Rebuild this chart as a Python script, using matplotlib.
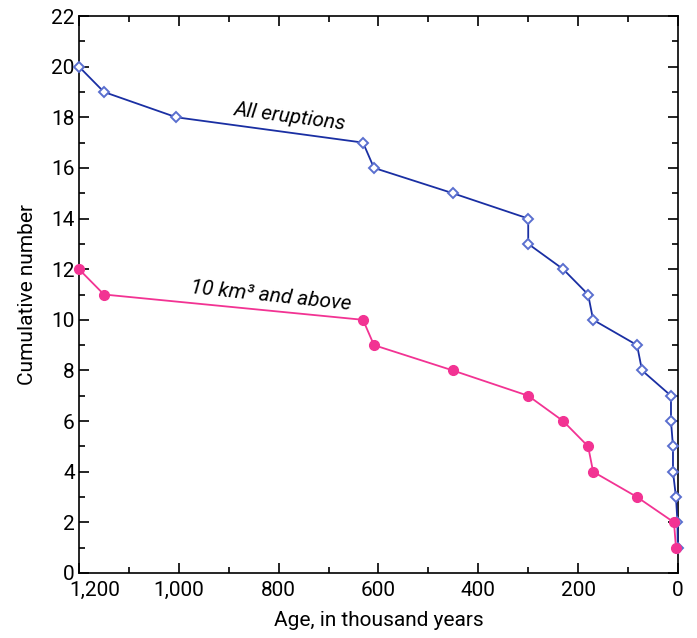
import matplotlib.pyplot as plt
import matplotlib.transforms as mtransforms
from matplotlib.ticker import MultipleLocator, FuncFormatter

plt.rcParams['font.family'] = ['Roboto', 'DejaVu Sans']

# cumulative count vs age (thousand years)
all_age = [1200, 1150, 1005, 631, 609, 451, 300, 300, 230, 180, 170, 82, 72, 14, 14, 10, 10, 4, 1, 0.5]
all_n = [20, 19, 18, 17, 16, 15, 14, 13, 12, 11, 10, 9, 8, 7, 6, 5, 4, 3, 2, 1]
big_age = [1200, 1150, 631, 609, 451, 300, 230, 180, 170, 82, 8, 4]
big_n = [12, 11, 10, 9, 8, 7, 6, 5, 4, 3, 2, 1]

blue, blue_mk, pink = '#1a2fa3', '#5a6fcf', '#f23393'

fig = plt.figure(figsize=(6.97, 6.38), dpi=100)
ax = fig.add_axes([0.1133, 0.1019, 0.8594, 0.873])

ax.plot(all_age, all_n, '-', color=blue, lw=1.3, marker='D', ms=5.5, mfc='white',
        mec=blue_mk, mew=1.4, clip_on=False, zorder=3)
ax.plot(big_age, big_n, '-', color=pink, lw=1.3, marker='o', ms=7, mfc=pink,
        mec=pink, clip_on=False, zorder=4)

ax.set_xlim(1200, 0)
ax.set_ylim(0, 22)
ax.xaxis.set_major_locator(MultipleLocator(200))
ax.xaxis.set_minor_locator(MultipleLocator(100))
ax.yaxis.set_major_locator(MultipleLocator(2))
ax.yaxis.set_minor_locator(MultipleLocator(1))
ax.xaxis.set_major_formatter(FuncFormatter(lambda v, p: f'{int(v):,}'))
ax.tick_params(which='both', direction='in', top=True, right=True, labelsize=15, width=1.2)
ax.tick_params(which='major', length=7)
ax.tick_params(which='minor', length=4)
ax.tick_params(axis='x', pad=6)
ax.tick_params(axis='y', pad=3)
for s in ax.spines.values():
    s.set_linewidth(1.2)

ax.set_xlabel('Age, in thousand years', fontsize=15, labelpad=8)
ax.set_ylabel('Cumulative number', fontsize=15, labelpad=10)

ax.text(778, 18.0, 'All eruptions', fontsize=15, style='italic', rotation=-7.5,
        ha='center', va='center')
ax.text(816, 10.95, '10 km³ and above', fontsize=15, style='italic', rotation=-6,
        ha='center', va='center')

fig.canvas.draw()
shift = mtransforms.ScaledTranslation(0.16, 0, fig.dpi_scale_trans)
for lab in ax.get_xticklabels():
    if lab.get_text() == '1,200':
        lab.set_transform(lab.get_transform() + shift)

fig.savefig('out.png', dpi=100)
